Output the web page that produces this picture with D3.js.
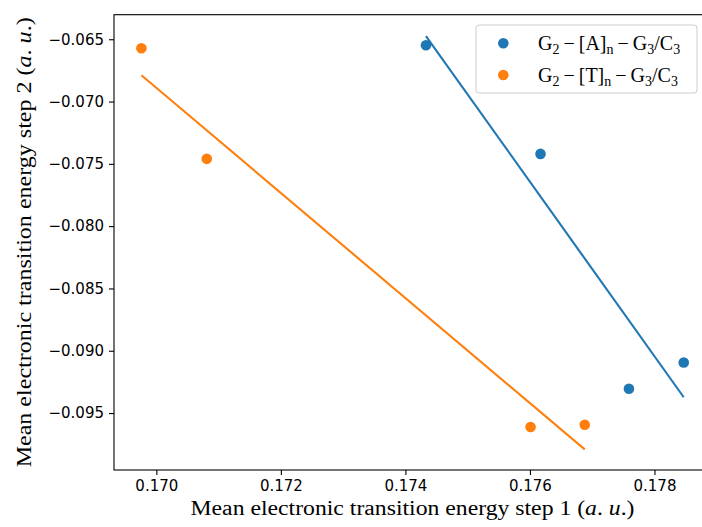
<!DOCTYPE html>
<html>
<head>
<meta charset="utf-8">
<script src="https://cdn.jsdelivr.net/npm/d3@7"></script>
<style>
  html, body { margin: 0; padding: 0; background: #fff; }
  svg { display: block; }
</style>
</head>
<body>
<svg id="chart" width="702" height="527"></svg>
<script>
// Mean transition energies (a.u.) for the two sequence families
const seriesNames = ["A", "T"];
const stepA1 = [0.17433, 0.17617, 0.17759, 0.17847];
const stepA2 = [-0.06548, -0.07420, -0.09305, -0.09094];
const stepT1 = [0.16976, 0.17081, 0.17601, 0.17688];
const stepT2 = [-0.06572, -0.07460, -0.09612, -0.09594];
const seriesColors = ["#1f77b4", "#ff7f0e"];

const xTicks = [0.170, 0.172, 0.174, 0.176, 0.178];
const yTicks = [-0.095, -0.090, -0.085, -0.080, -0.075, -0.070, -0.065];
const xDomain = [0.16932, 0.17894];
const yDomain = [-0.09957, -0.06303];

const svg = d3.select("#chart");
const plot = { left: 114, right: 713, top: 14.7, bottom: 470 };

const x = d3.scaleLinear().domain(xDomain).range([plot.left, plot.right]);
const y = d3.scaleLinear().domain(yDomain).range([plot.bottom, plot.top]);
const fmt = d3.format(".3f");

// least-squares fit through each series
function fit(xs, ys) {
  const mx = d3.mean(xs), my = d3.mean(ys);
  let sxy = 0, sxx = 0;
  xs.forEach((v, i) => { sxy += (v - mx) * (ys[i] - my); sxx += (v - mx) * (v - mx); });
  const b = sxy / sxx, a = my - b * mx;
  const x0 = d3.min(xs), x1 = d3.max(xs);
  return [[x0, a + b * x0], [x1, a + b * x1]];
}

const series = [
  { name: seriesNames[0], xs: stepA1, ys: stepA2, color: seriesColors[0] },
  { name: seriesNames[1], xs: stepT1, ys: stepT2, color: seriesColors[1] }
];

const tickFont = "'DejaVu Sans', sans-serif";
const serif = "'Liberation Serif', 'DejaVu Serif', serif";

// axes
const xAxis = d3.axisBottom(x).tickValues(xTicks).tickFormat(fmt).tickSize(5).tickPadding(5);
const yAxis = d3.axisLeft(y).tickValues(yTicks).tickFormat(fmt).tickSize(5).tickPadding(5);

const gx = svg.append("g").attr("transform", `translate(0,${plot.bottom})`).call(xAxis);
const gy = svg.append("g").attr("transform", `translate(${plot.left},0)`).call(yAxis);
[gx, gy].forEach(g => {
  g.select(".domain").remove();
  g.selectAll(".tick line").attr("stroke", "#000").attr("stroke-width", 1.1);
  g.selectAll(".tick text").attr("fill", "#000").style("font-family", tickFont).style("font-size", "15px");
});

// spines (right one falls outside the view)
svg.append("rect")
  .attr("x", plot.left).attr("y", plot.top)
  .attr("width", plot.right - plot.left).attr("height", plot.bottom - plot.top)
  .attr("fill", "none").attr("stroke", "#000").attr("stroke-width", 1.1);

// data
series.forEach(s => {
  const g = svg.append("g");
  g.selectAll("circle").data(s.xs.map((v, i) => [v, s.ys[i]])).join("circle")
    .attr("cx", d => x(d[0])).attr("cy", d => y(d[1])).attr("r", 5.3).attr("fill", s.color);
  g.append("path")
    .attr("d", d3.line().x(d => x(d[0])).y(d => y(d[1]))(fit(s.xs, s.ys)))
    .attr("fill", "none").attr("stroke", s.color).attr("stroke-width", 2.1);
});

// axis titles
function addLabel(sel, num) {
  sel.append("tspan").text(`Mean electronic transition energy step ${num} (`);
  sel.append("tspan").attr("font-style", "italic").text("a");
  sel.append("tspan").text(". ");
  sel.append("tspan").attr("font-style", "italic").text("u");
  sel.append("tspan").text(".)");
}
const xl = svg.append("text")
  .attr("x", 412.5).attr("y", 515)
  .attr("text-anchor", "middle").attr("textLength", 444).attr("lengthAdjust", "spacingAndGlyphs")
  .style("font-family", serif).style("font-size", "20.5px").attr("fill", "#000");
addLabel(xl, 1);

const yl = svg.append("text")
  .attr("transform", `translate(31,${(plot.top + plot.bottom) / 2}) rotate(-90)`)
  .attr("text-anchor", "middle").attr("textLength", 450).attr("lengthAdjust", "spacingAndGlyphs")
  .style("font-family", serif).style("font-size", "20.5px").attr("fill", "#000");
addLabel(yl, 2);

// legend
const lg = svg.append("g");
lg.append("rect").attr("x", 476).attr("y", 25).attr("width", 221).attr("height", 68)
  .attr("rx", 3).attr("fill", "#fff").attr("fill-opacity", 0.8)
  .attr("stroke", "#cccccc").attr("stroke-width", 1);

series.forEach((s, i) => {
  const cy = 43.3 + i * 31.7;
  lg.append("circle").attr("cx", 503.3).attr("cy", cy).attr("r", 5.3).attr("fill", s.color);
  const t = lg.append("text").attr("x", 538).attr("y", cy + 7)
    .style("font-family", serif).style("font-size", "20px").attr("fill", "#000");
  const sub = v => t.append("tspan").attr("dy", 4).style("font-size", "14px").text(v);
  const up = v => t.append("tspan").attr("dy", -4).text(v);
  t.append("tspan").text("G");
  sub("2");
  up("\u2009\u2212\u2009[" + s.name + "]");
  sub("n");
  up("\u2009\u2212\u2009G");
  sub("3");
  up("/C");
  sub("3");
});
</script>
</body>
</html>
